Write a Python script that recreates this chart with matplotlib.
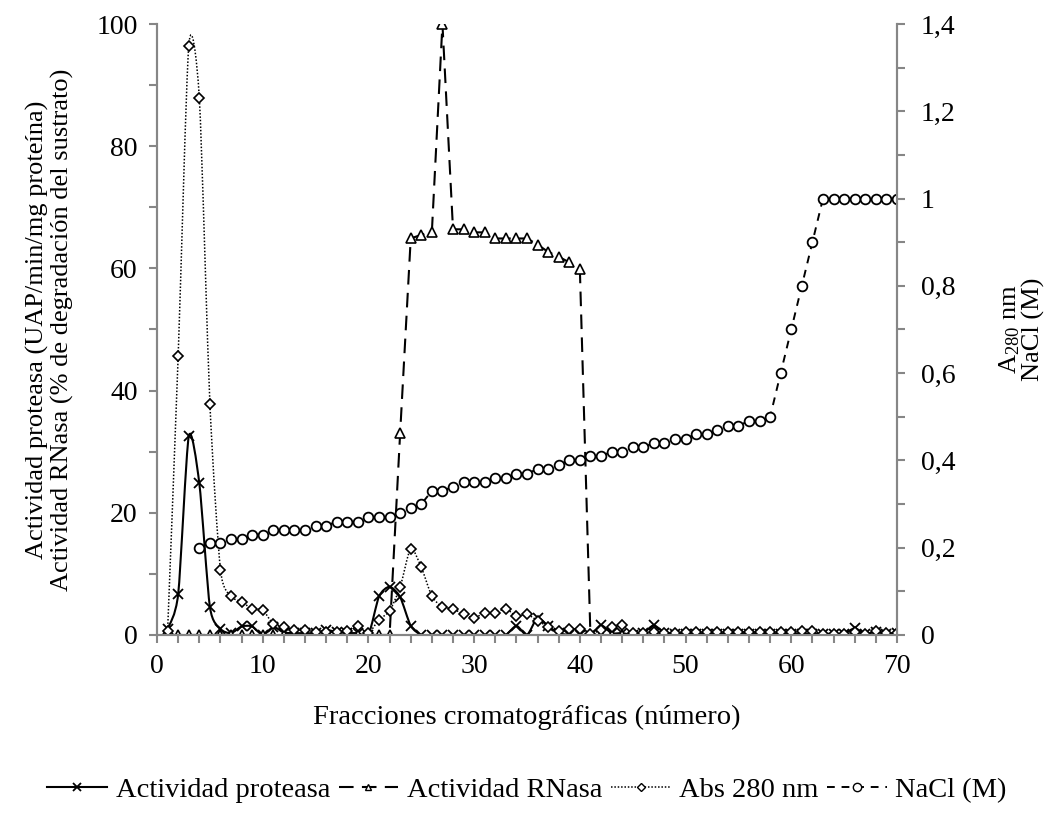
import matplotlib
matplotlib.use("Agg")
import matplotlib.pyplot as plt
from matplotlib.path import Path
from matplotlib.patches import PathPatch
from matplotlib.lines import Line2D
from matplotlib.ticker import MultipleLocator, FuncFormatter

plt.rcParams["font.family"] = ["Liberation Serif", "DejaVu Serif"]
plt.rcParams["mathtext.fontset"] = "custom"
plt.rcParams["mathtext.rm"] = "Liberation Serif"
plt.rcParams["mathtext.it"] = "Liberation Serif:italic"

fractions = list(range(1, 71))

# protease activity (UAP/min/mg protein), left axis
protease = [1.0, 6.7, 32.5, 24.8, 4.6, 1.0, 0.3, 1.4, 1.4, 0.0,
            1.3, 0.4, 0.3, 0.3, 0.3, 0.8, 0.5, 0.3, 0.3, 0.0,
            6.3, 7.9, 6.2, 1.5, 0.0, 0.0, 0.0, 0.0, 0.0, 0.0,
            0.0, 0.0, 0.0, 1.5, 0.0, 2.8, 1.4, 0.3, 0.0, 0.0,
            0.0, 1.6, 0.3, 0.3, 0.0, 0.3, 1.6, 0.3, 0.2, 0.2,
            0.2, 0.2, 0.2, 0.2, 0.2, 0.2, 0.2, 0.2, 0.2, 0.2,
            0.2, 0.2, 0.2, 0.2, 0.2, 1.1, 0.2, 0.5, 0.2, 0.3]

# RNase activity (% substrate degradation), left axis
rnase = [0.0] * 22 + [33.1, 64.9, 65.5, 66.0, 100.0, 66.4, 66.4, 65.9,
                      65.9, 64.9, 64.9, 64.9, 64.9, 63.9, 62.7, 61.9,
                      61.0, 59.9] + [0.0] * 30

# absorbance at 280 nm, right axis
abs280 = [0.010, 0.640, 1.350, 1.230, 0.530, 0.150, 0.089, 0.076, 0.060, 0.057,
          0.025, 0.019, 0.011, 0.011, 0.007, 0.007, 0.007, 0.010, 0.021, 0.005,
          0.035, 0.055, 0.110, 0.198, 0.155, 0.089, 0.064, 0.060, 0.047, 0.039,
          0.051, 0.051, 0.060, 0.043, 0.047, 0.033, 0.019, 0.009, 0.013, 0.013,
          0.002, 0.012, 0.019, 0.022, 0.004, 0.005, 0.006, 0.005, 0.005, 0.006,
          0.006, 0.006, 0.006, 0.007, 0.007, 0.007, 0.007, 0.007, 0.007, 0.007,
          0.008, 0.008, 0.002, 0.002, 0.002, 0.006, 0.002, 0.008, 0.004, 0.004]

# NaCl gradient (M), right axis, starting at fraction 4
nacl_fractions = list(range(4, 71))
nacl = [0.20, 0.21, 0.21, 0.22, 0.22, 0.23, 0.23, 0.24, 0.24, 0.24,
        0.24, 0.25, 0.25, 0.26, 0.26, 0.26, 0.27, 0.27, 0.27, 0.28,
        0.29, 0.30, 0.33, 0.33, 0.34, 0.35, 0.35, 0.35, 0.36, 0.36,
        0.37, 0.37, 0.38, 0.38, 0.39, 0.40, 0.40, 0.41, 0.41, 0.42,
        0.42, 0.43, 0.43, 0.44, 0.44, 0.45, 0.45, 0.46, 0.46, 0.47,
        0.48, 0.48, 0.49, 0.49, 0.50, 0.60, 0.70, 0.80, 0.90, 1.00,
        1.00, 1.00, 1.00, 1.00, 1.00, 1.00, 1.00]


def smooth_path(x, y, k=0.12):
    # bezier curve through the points, like a spreadsheet "smoothed line"
    n = len(x)
    verts = [(x[0], y[0])]
    codes = [Path.MOVETO]
    for i in range(n - 1):
        xp, yp = (x[i - 1], y[i - 1]) if i > 0 else (x[i], y[i])
        xn, yn = (x[i + 2], y[i + 2]) if i + 2 < n else (x[i + 1], y[i + 1])
        c1 = (x[i] + (x[i + 1] - xp) * k, y[i] + (y[i + 1] - yp) * k)
        c2 = (x[i + 1] - (xn - x[i]) * k, y[i + 1] - (yn - y[i]) * k)
        verts += [c1, c2, (x[i + 1], y[i + 1])]
        codes += [Path.CURVE4] * 3
    return Path(verts, codes)


axis_grey = "#868686"
fs_tick = 20
fs_label = 19
fs_legend = 20.5

fig = plt.figure(figsize=(10.54, 8.17), dpi=100)
ax = fig.add_axes([0.149, 0.2228, 0.702, 0.7478])
ax2 = ax.twinx()

ls_rnase = (0, (7, 4))
ls_abs = (0, (1, 1.2))
ls_nacl = (0, (4, 3.5))

# primary axis: enzyme activities
ax.add_patch(PathPatch(smooth_path(fractions, protease), fill=False,
                       lw=1.5, color="black", linestyle="-"))
ax.plot(fractions, protease, ls="none", marker="x", ms=7, mew=1.3,
        color="black")
ax.plot(fractions, rnase, ls=ls_rnase, lw=1.5, color="black",
        marker="^", ms=6.5, mew=1.2, mfc="white", mec="black")

# secondary axis: absorbance and salt gradient
ax2.add_patch(PathPatch(smooth_path(fractions, abs280), fill=False,
                        lw=1.1, color="black", linestyle=ls_abs))
ax2.plot(fractions, abs280, ls="none", marker="D", ms=5, mew=1.2,
         mfc="white", mec="black")
ax2.plot(nacl_fractions, nacl, ls=ls_nacl, lw=1.4, color="black",
         marker="o", ms=7, mew=1.3, mfc="white", mec="black")

ax.set_xlim(0, 70)
ax.set_ylim(0, 100)
ax2.set_ylim(0, 1.4)

ax.xaxis.set_major_locator(MultipleLocator(10))
ax.xaxis.set_minor_locator(MultipleLocator(2))
ax.yaxis.set_major_locator(MultipleLocator(20))
ax.yaxis.set_minor_locator(MultipleLocator(10))
ax2.yaxis.set_major_locator(MultipleLocator(0.2))
ax2.yaxis.set_minor_locator(MultipleLocator(0.1))
ax2.yaxis.set_major_formatter(
    FuncFormatter(lambda v, p: f"{v:.1f}".rstrip("0").rstrip(".").replace(".", ",")))

for a in (ax, ax2):
    a.spines["top"].set_visible(False)
    for s in ("left", "right", "bottom"):
        a.spines[s].set_color(axis_grey)
        a.spines[s].set_linewidth(1.5)
    a.tick_params(which="both", direction="out", color=axis_grey, width=1.5,
                  length=6, labelsize=fs_tick, labelcolor="black")
ax.tick_params(axis="y", pad=8)
ax2.tick_params(axis="y", pad=11)
ax.tick_params(axis="x", pad=8)

ax.set_xlabel("Fracciones cromatográficas (número)", fontsize=fs_legend,
              labelpad=18)
ax.set_ylabel("Actividad proteasa (UAP/min/mg proteína)\n"
              "Actividad RNasa (% de degradación del sustrato)",
              fontsize=fs_label, linespacing=1.1, labelpad=16)
ax2.set_ylabel("A$_{280}$ nm\nNaCl (M)", fontsize=fs_label, rotation=90,
               linespacing=1.0, labelpad=30, va="top")

handles = [
    Line2D([], [], color="black", lw=1.5, marker="x", ms=6, mew=1.3),
    Line2D([], [], color="black", lw=1.5, ls=ls_rnase, marker="^", ms=5,
           mfc="white", mec="black"),
    Line2D([], [], color="black", lw=1.1, ls=ls_abs, marker="D", ms=4,
           mfc="white", mec="black"),
    Line2D([], [], color="black", lw=1.4, ls=ls_nacl, marker="o", ms=6,
           mfc="white", mec="black"),
]
labels = ["Actividad proteasa", "Actividad RNasa", "Abs 280 nm", "NaCl (M)"]
fig.legend(handles, labels, loc="center", bbox_to_anchor=(0.5, 0.033),
           ncol=4, frameon=False, fontsize=fs_legend, handlelength=2.1,
           handletextpad=0.3, columnspacing=0.3)

fig.savefig("out.png", dpi=100)
